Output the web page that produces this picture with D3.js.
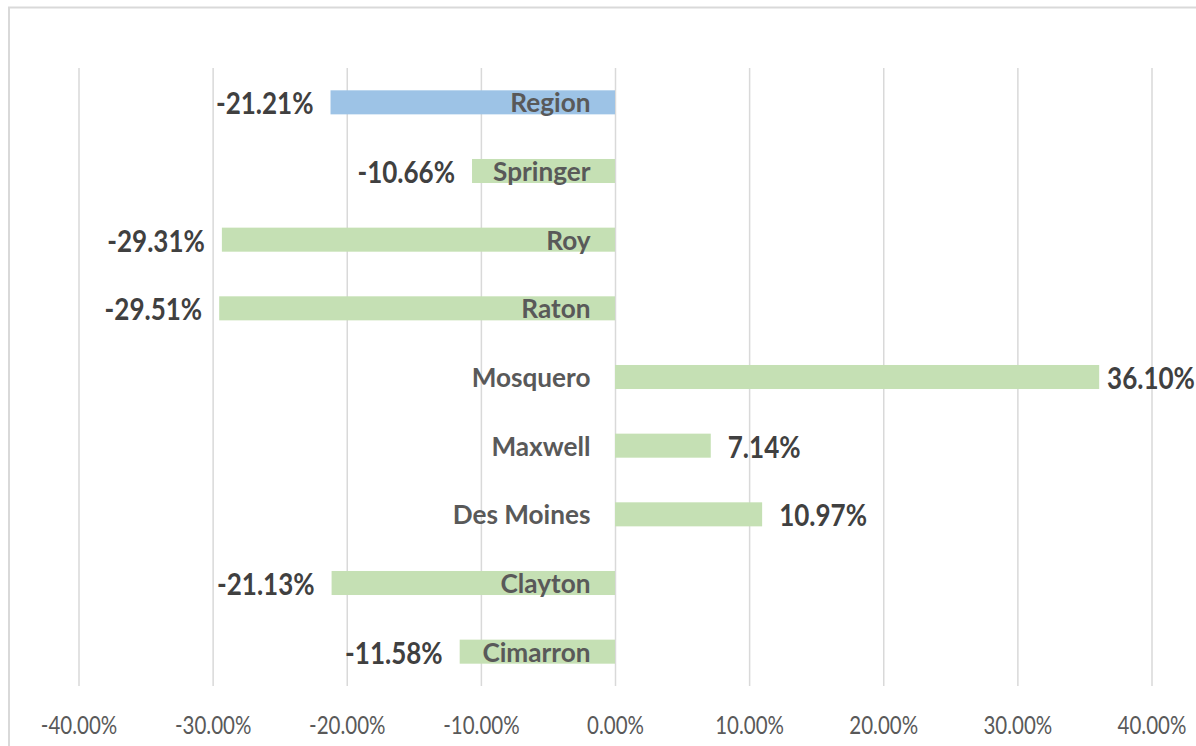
<!DOCTYPE html>
<html>
<head>
<meta charset="utf-8">
<script src="https://cdn.jsdelivr.net/npm/d3@7/dist/d3.min.js"></script>
<style>
  html, body { margin: 0; padding: 0; background: #ffffff; }
  svg { display: block; }
  text { font-family: Lato, "Open Sans", sans-serif; }
</style>
</head>
<body>
<svg id="chart" width="1196" height="746"></svg>
<script>
// ---- Data ----
const categories = ["Region", "Springer", "Roy", "Raton", "Mosquero", "Maxwell", "Des Moines", "Clayton", "Cimarron"];
const values = [-21.21, -10.66, -29.31, -29.51, 36.10, 7.14, 10.97, -21.13, -11.58];
const tickValues = [-40, -30, -20, -10, 0, 10, 20, 30, 40];
const tickLabels = ["-40.00%", "-30.00%", "-20.00%", "-10.00%", "0.00%", "10.00%", "20.00%", "30.00%", "40.00%"];

const W = 1196, H = 746;
const svg = d3.select("#chart");

// condensed look (Calibri-like) via horizontal scaling
const SX_TICK = 0.82, SX_VAL = 0.84, SX_CAT = 0.97;

// Outer chart border
svg.append("rect")
  .attr("x", 9).attr("y", 7.5)
  .attr("width", W + 20).attr("height", H + 20)
  .attr("fill", "#ffffff")
  .attr("stroke", "#d9d9d9").attr("stroke-width", 2);

const plotTop = 68, plotBottom = 686;
const x = d3.scaleLinear().domain([-40, 40]).range([78.5, 1151.5]);
const y = d3.scaleBand().domain(categories).range([plotTop, plotBottom])
  .paddingInner(0.65).paddingOuter(0.325);

// Gridlines via axis
const grid = svg.append("g")
  .attr("transform", `translate(0,${plotBottom})`)
  .call(d3.axisBottom(x).tickValues(tickValues).tickSize(-(plotBottom - plotTop)).tickFormat(""));
grid.select(".domain").remove();
grid.selectAll(".tick line").attr("stroke", "#d9d9d9").attr("stroke-width", 1.5);

// Tick labels
const axis = svg.append("g")
  .attr("transform", `translate(0,${plotBottom})`)
  .call(d3.axisBottom(x).tickValues(tickValues).tickSize(0)
        .tickFormat((d, i) => tickLabels[i]));
axis.select(".domain").remove();
axis.selectAll(".tick text")
  .attr("y", 0).attr("dy", 0)
  .attr("transform", `translate(0,48) scale(${SX_TICK},1)`)
  .attr("font-size", 25)
  .attr("fill", "#595959");

// Bars
const bw = y.bandwidth();
svg.append("g").selectAll("rect")
  .data(categories)
  .join("rect")
  .attr("x", (d, i) => Math.min(x(0), x(values[i])))
  .attr("y", d => y(d))
  .attr("width", (d, i) => Math.abs(x(values[i]) - x(0)))
  .attr("height", bw)
  .attr("fill", (d, i) => i === 0 ? "#9dc3e6" : "#c5e0b4");

// Category labels (right aligned next to the zero axis)
svg.append("g").selectAll("text")
  .data(categories)
  .join("text")
  .attr("transform", d => `translate(${x(0) - 24.5},${y(d) + bw / 2 + 10}) scale(${SX_CAT},1)`)
  .attr("text-anchor", "end")
  .attr("font-size", 27)
  .attr("font-weight", "bold")
  .attr("fill", "#595959")
  .text(d => d);

// Value labels
const vl = svg.append("g").selectAll("text")
  .data(categories)
  .join("text")
  .attr("font-size", 31)
  .attr("font-weight", "bold")
  .attr("fill", "#404040")
  .attr("text-anchor", (d, i) => values[i] < 0 ? "end" : "start")
  .text((d, i) => values[i].toFixed(2) + "%");

vl.each(function(d, i) {
  const len = this.getComputedTextLength() * SX_VAL;
  let px = values[i] < 0 ? x(values[i]) - 17 : x(values[i]) + 17;
  if (values[i] > 0 && px + len > W - 1) px = W - 1 - len;
  d3.select(this).attr("transform", `translate(${px},${y(d) + bw / 2 + 12}) scale(${SX_VAL},1)`);
});
</script>
</body>
</html>
